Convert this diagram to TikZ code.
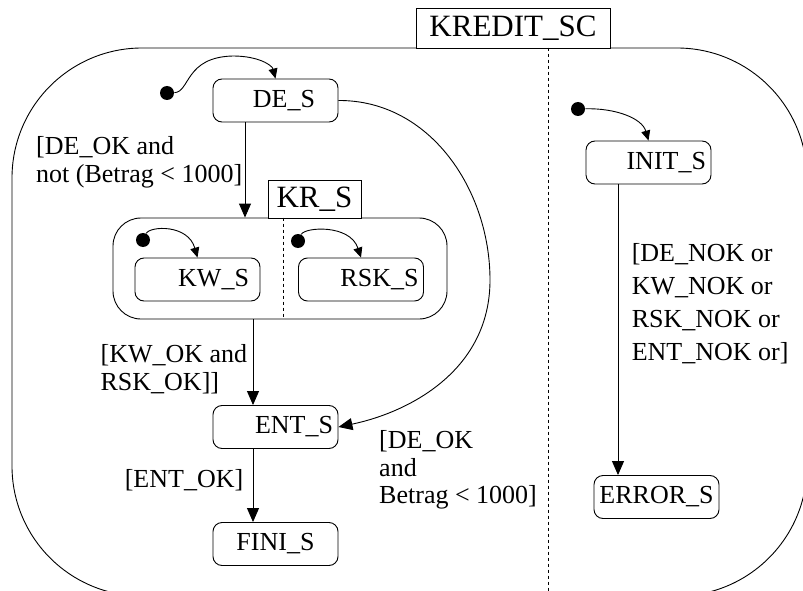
\documentclass[tikz,border=0pt]{standalone}
\usepackage{fontspec}
\setmainfont{Liberation Serif}
\usetikzlibrary{arrows.meta}

\begin{document}
\begin{tikzpicture}[x=1pt,y=-1pt,line width=0.9pt,
                    >={Triangle[length=14pt,width=12pt]},
                    state/.style={draw,rounded corners=9pt,minimum height=43pt,
                      inner xsep=#1,text width={125pt-2*#1},align=right,
                      font=\fontsize{26}{28}\selectfont},
                    state/.default=6pt,
                    title box/.style={draw,fill=white,inner sep=0pt,
                      font=\fontsize{31}{34}\selectfont},
                    init dot/.style={circle,fill,inner sep=0pt,minimum size=14pt},
                    init arc/.style={->,>={Triangle[length=10pt,width=9pt]}},
                    guard/.style={align=left,font=\fontsize{26}{28}\selectfont}]

  \useasboundingbox (0,0) rectangle (803,591);
  \clip (0,0) rectangle (803,591);

  % the chart and its two parts
  \node[draw,rounded corners=130pt,minimum width=795pt,minimum height=548pt,inner sep=0pt] (sc) at (409.5,322) {};
  \node[title box,minimum width=194pt,minimum height=40pt] (sctitle) at (513,28) {KREDIT\_SC};
  \draw[dashed] (sc.north -| 548,0) -- (548,591);

  % KR_S with its two parts
  \node[draw,rounded corners=28pt,minimum width=334pt,minimum height=101pt] (KR) at (280,268.5) {};
  \node[title box,minimum width=93pt,minimum height=38pt] (krtitle) at (314.5,199) {KR\_S};
  \draw[dashed] (KR.north -| 283,0) -- (KR.south -| 283,0);

  % states
  \node[state=23pt] (DE) at (275.5,100.5) {DE\_S};
  \node[state=11pt] (KW) at (197.5,279.5) {KW\_S};
  \node[state=5pt] (RSK) at (361,279.5) {RSK\_S};
  \node[state=5pt] (ENT) at (275.5,427) {ENT\_S};
  \node[state,align=center] (FINI) at (275.5,544) {FINI\_S};
  \node[state=5pt] (INIT) at (648.5,162.5) {INIT\_S};
  \node[state=4pt,align=center] (ERROR) at (656.5,497) {ERROR\_S};

  % initial states
  \node[init dot] (deinit) at (167,93) {};
  \node[init dot] (kwinit) at (143,240) {};
  \node[init dot] (rskinit) at (298,241) {};
  \node[init dot] (initinit) at (578,109) {};

  \draw[init arc] (deinit) .. controls (190,92) and (185,57) .. (233,56)
                           .. controls (258,56) and (272,65) .. (DE.north);
  \draw[init arc] (kwinit) .. controls (150,226) and (188,224) .. (KW.north);
  \draw[init arc] (rskinit) .. controls (305,227) and (350,224) .. (RSK.north);
  \draw[init arc] (initinit) .. controls (615,108) and (642,118) .. (INIT.north);

  % transitions
  \path[->]
    (DE.south -| 245,0) edge node[guard,left,pos=0.42,xshift=1pt] {[DE\_OK and\\not (Betrag < 1000]} (KR.north -| 245,0)
    (KR.south -| 253,0) edge node[guard,left,pos=0.58,xshift=-2pt] {[KW\_OK and\\RSK\_OK]]} (ENT.north -| 253,0)
    (ENT.south -| 253,0) edge node[guard,left,pos=0.43,xshift=-6pt] {[ENT\_OK]} (FINI.north -| 253,0)
    (INIT.south -| 618,0) edge node[guard,right,pos=0.41,xshift=10pt,font=\fontsize{26}{33}\selectfont]
        {[DE\_NOK or\\KW\_NOK or\\RSK\_NOK or\\ENT\_NOK or]} (ERROR.north -| 618,0);

  \draw[->] (DE.east) .. controls (430,100) and (490,190) .. (490,280)
                      .. controls (490,370) and (410,412) .. (ENT.east)
    node[guard,at end,anchor=north west,xshift=37pt,font=\fontsize{26}{27.5}\selectfont]
        {[DE\_OK\\and\\Betrag < 1000]};
\end{tikzpicture}
\end{document}
